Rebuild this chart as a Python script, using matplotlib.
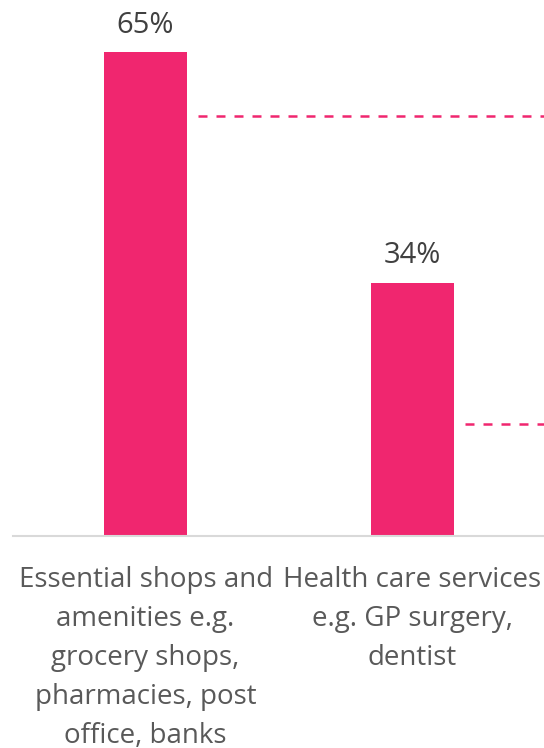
import matplotlib
matplotlib.use("Agg")
import matplotlib.pyplot as plt

categories = [
    "Essential shops and\namenities e.g.\ngrocery shops,\npharmacies, post\noffice, banks",
    "Health care services\ne.g. GP surgery,\ndentist",
]
values = [65, 34]
reference_values = [56.4, 15.0]

PINK = "#F0266F"
plt.rcParams["font.family"] = ["Open Sans", "DejaVu Sans"]

fig = plt.figure(figsize=(5.44, 7.48), dpi=100)
ax = fig.add_axes([13 / 544, 1 - 536 / 748, 1 - 13 / 544, 536 / 748])

x = list(range(len(categories)))
bar_w = 0.313
ax.bar(x, values, width=bar_w, color=PINK, zorder=2)

xmin, xmax = -0.497, 1.493
ax.set_xlim(xmin, xmax)
ax.set_ylim(0, 72)

# dashed comparison levels, starting just to the right of each bar
for xi, rv in zip(x, reference_values):
    ax.hlines(rv, xi + bar_w / 2 + 0.04, xmax + 0.5, colors=PINK,
              linewidth=1.8, linestyles=(0, (3.6, 3.6)), zorder=2)

for xi, v in zip(x, values):
    ax.annotate(f"{v}%", (xi, v), xytext=(0, 9), textcoords="offset points",
                ha="center", va="bottom", fontsize=21, color="#404040")

for xi, lab in zip(x, categories):
    ax.annotate(lab, (xi, 0), xytext=(0, -21.5), textcoords="offset points",
                ha="center", va="top", fontsize=20, color="#595959",
                linespacing=1.52, annotation_clip=False)

for s in ["top", "right", "left"]:
    ax.spines[s].set_visible(False)
ax.spines["bottom"].set_color("#D9D9D9")
ax.spines["bottom"].set_linewidth(1.5)
ax.set_xticks([])
ax.set_yticks([])

fig.savefig("out.png", dpi=100)
